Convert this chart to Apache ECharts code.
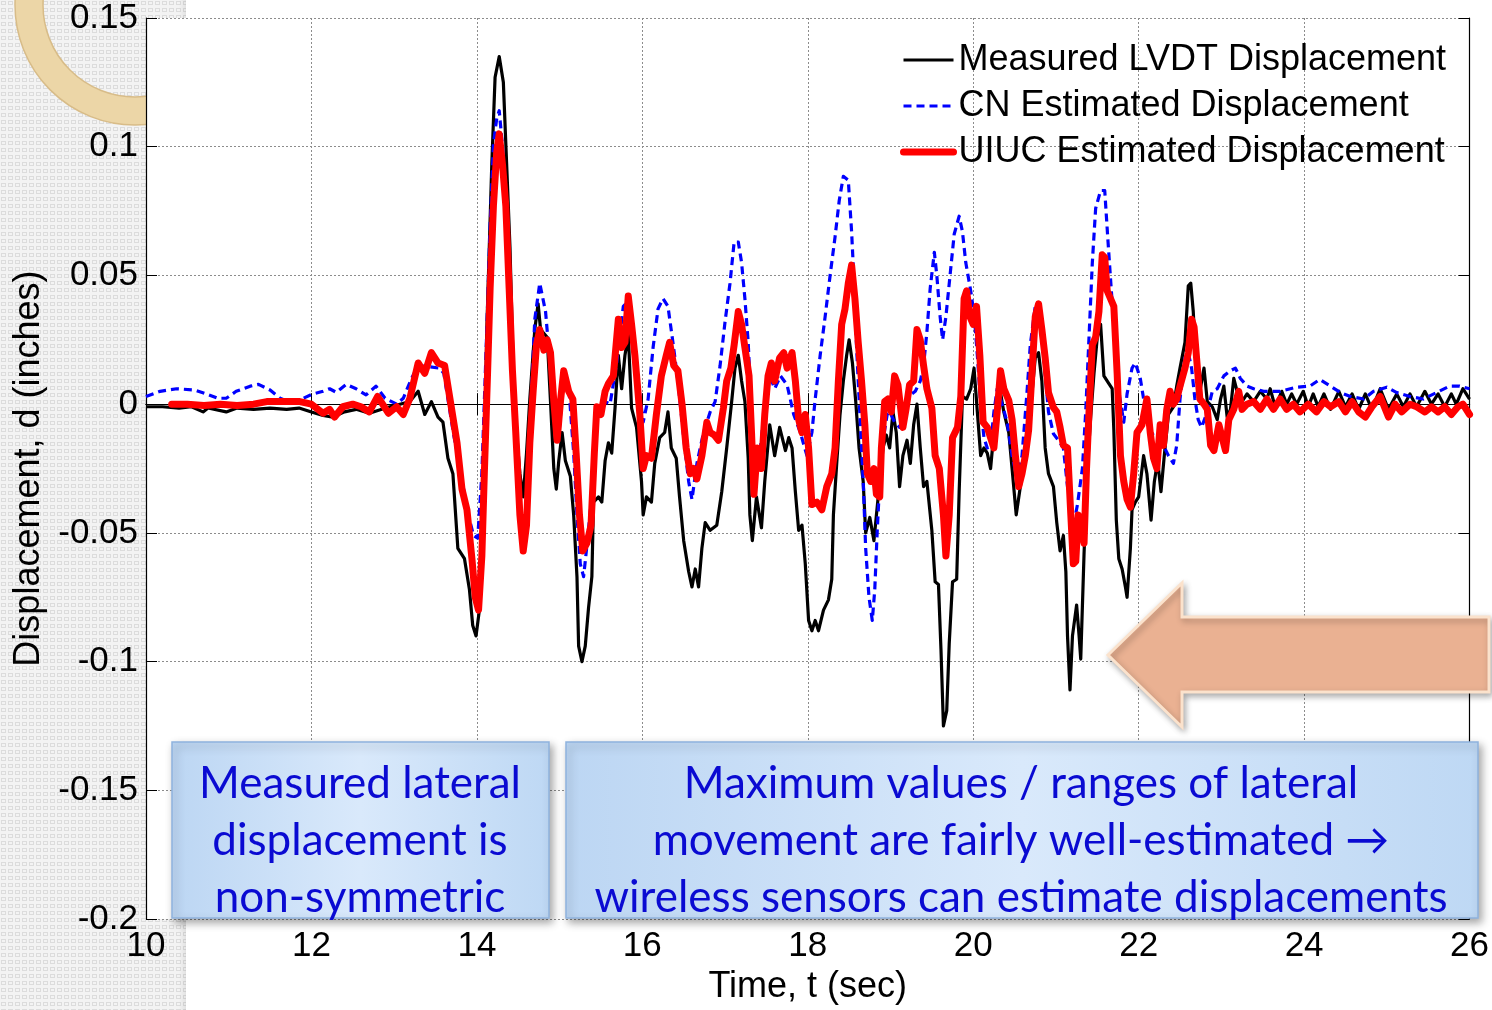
<!DOCTYPE html>
<html>
<head>
<meta charset="utf-8">
<title>Lateral displacement: measured vs. estimated</title>
<script src="https://cdn.jsdelivr.net/npm/echarts@6/dist/echarts.min.js"></script>
<style>
  html, body { margin: 0; padding: 0; background: #ffffff; }
  #chart { width: 1492px; height: 1010px; }
</style>
</head>
<body>
<div id="chart"></div>
<script>
// ---- series: [time (sec), displacement (inches)] ----
const lvdt = [
  [10.00,-0.001],[10.20,-0.001],[10.40,-0.0015],[10.55,-0.001],[10.69,-0.003],[10.75,-0.0015],[10.97,-0.003],[11.10,-0.0015],
  [11.30,-0.002],[11.50,-0.0015],[11.70,-0.002],[11.85,-0.0015],[12.00,-0.003],[12.14,-0.0044],[12.26,-0.005],[12.40,-0.003],
  [12.54,-0.002],[12.70,-0.0035],[12.85,-0.002],[12.95,-0.001],[13.07,0.000],[13.19,0.001],[13.29,0.005],[13.37,-0.004],
  [13.45,0.001],[13.53,-0.005],[13.59,-0.007],[13.65,-0.021],[13.71,-0.027],[13.77,-0.056],[13.85,-0.060],[13.91,-0.072],
  [13.95,-0.086],[13.99,-0.090],[14.03,-0.080],[14.08,-0.035],[14.12,0.029],[14.18,0.093],[14.22,0.127],[14.27,0.135],
  [14.32,0.125],[14.36,0.093],[14.40,0.061],[14.44,0.013],[14.48,-0.011],[14.52,-0.027],[14.56,-0.036],[14.60,-0.019],
  [14.64,0.002],[14.70,0.029],[14.74,0.039],[14.77,0.029],[14.85,0.026],[14.89,0.001],[14.93,-0.025],[14.96,-0.033],
  [14.99,-0.022],[15.03,-0.011],[15.07,-0.022],[15.13,-0.028],[15.17,-0.043],[15.21,-0.067],[15.23,-0.094],[15.27,-0.100],
  [15.31,-0.094],[15.35,-0.079],[15.39,-0.067],[15.41,-0.038],[15.47,-0.036],[15.51,-0.038],[15.55,-0.022],[15.59,-0.015],
  [15.63,-0.019],[15.67,-0.0015],[15.71,0.019],[15.75,0.006],[15.79,0.019],[15.83,0.027],[15.87,-0.0015],[15.93,-0.009],
  [15.99,-0.030],[16.01,-0.043],[16.05,-0.036],[16.11,-0.038],[16.15,-0.023],[16.21,-0.013],[16.27,-0.011],[16.31,-0.003],
  [16.35,-0.017],[16.41,-0.021],[16.45,-0.036],[16.50,-0.053],[16.56,-0.065],[16.60,-0.071],[16.64,-0.064],[16.68,-0.071],
  [16.72,-0.056],[16.76,-0.046],[16.82,-0.049],[16.90,-0.047],[16.96,-0.034],[17.02,-0.017],[17.08,0.001],[17.12,0.014],
  [17.16,0.019],[17.20,0.009],[17.24,0.001],[17.28,-0.021],[17.30,-0.043],[17.33,-0.053],[17.38,-0.036],[17.44,-0.048],
  [17.48,-0.030],[17.54,-0.008],[17.60,-0.020],[17.66,-0.009],[17.73,-0.018],[17.77,-0.013],[17.81,-0.017],[17.85,-0.034],
  [17.89,-0.049],[17.93,-0.047],[17.97,-0.062],[18.01,-0.084],[18.05,-0.088],[18.09,-0.084],[18.13,-0.088],[18.19,-0.080],
  [18.25,-0.076],[18.29,-0.068],[18.31,-0.043],[18.35,-0.023],[18.39,-0.004],[18.43,0.009],[18.47,0.019],[18.50,0.025],
  [18.54,0.016],[18.58,0.001],[18.62,-0.017],[18.67,-0.030],[18.70,-0.050],[18.75,-0.044],[18.80,-0.053],[18.83,-0.043],
  [18.87,-0.030],[18.91,-0.017],[18.95,-0.012],[18.99,-0.017],[19.03,-0.003],[19.07,-0.011],[19.11,-0.032],[19.15,-0.020],
  [19.20,-0.014],[19.24,-0.023],[19.28,-0.008],[19.32,0.000],[19.36,-0.017],[19.40,-0.032],[19.44,-0.030],[19.50,-0.049],
  [19.54,-0.069],[19.58,-0.070],[19.61,-0.095],[19.64,-0.125],[19.68,-0.119],[19.71,-0.093],[19.75,-0.069],[19.80,-0.068],
  [19.83,-0.034],[19.87,0.003],[19.92,0.002],[19.97,0.006],[20.01,0.014],[20.05,-0.003],[20.09,-0.020],[20.13,-0.017],
  [20.17,-0.019],[20.21,-0.025],[20.25,-0.011],[20.33,0.0045],[20.37,-0.003],[20.43,-0.011],[20.47,-0.025],[20.52,-0.043],
  [20.57,-0.032],[20.63,-0.020],[20.69,-0.003],[20.75,0.018],[20.79,0.020],[20.83,0.009],[20.87,-0.017],[20.91,-0.027],
  [20.97,-0.032],[21.01,-0.046],[21.05,-0.057],[21.09,-0.051],[21.12,-0.065],[21.14,-0.090],[21.17,-0.111],[21.20,-0.090],
  [21.25,-0.078],[21.28,-0.090],[21.30,-0.099],[21.34,-0.058],[21.38,-0.025],[21.42,-0.005],[21.46,0.012],[21.50,0.026],
  [21.54,0.031],[21.58,0.011],[21.64,0.008],[21.68,0.006],[21.70,-0.010],[21.73,-0.045],[21.76,-0.060],[21.80,-0.064],
  [21.84,-0.071],[21.86,-0.075],[21.90,-0.056],[21.92,-0.041],[21.96,-0.038],[22.00,-0.036],[22.06,-0.020],[22.10,-0.027],
  [22.15,-0.045],[22.19,-0.030],[22.23,-0.022],[22.27,-0.034],[22.31,-0.020],[22.36,-0.004],[22.42,-0.001],[22.46,0.007],
  [22.50,0.014],[22.56,0.024],[22.60,0.046],[22.63,0.047],[22.66,0.036],[22.70,0.012],[22.74,0.005],[22.79,0.014],
  [22.83,0.001],[22.89,-0.001],[22.95,-0.006],[22.99,0.002],[23.03,0.007],[23.07,-0.005],[23.11,-0.002],[23.15,0.010],
  [23.23,0.000],[23.31,0.004],[23.39,0.001],[23.47,0.005],[23.55,0.002],[23.59,0.006],[23.65,-0.001],[23.73,0.005],
  [23.79,0.000],[23.85,0.004],[23.91,0.000],[23.99,0.005],[24.05,-0.001],[24.11,0.004],[24.17,-0.001],[24.24,0.004],
  [24.32,-0.002],[24.42,0.005],[24.50,-0.001],[24.58,0.004],[24.66,-0.002],[24.74,0.004],[24.82,-0.002],[24.92,0.006],
  [25.02,-0.002],[25.12,0.004],[25.20,-0.001],[25.28,0.004],[25.36,-0.001],[25.46,0.005],[25.54,0.000],[25.62,0.004],
  [25.70,-0.001],[25.78,0.004],[25.84,0.000],[25.92,0.006],[26.00,0.002]
];

const cn = [
  [10.00,0.003],[10.17,0.005],[10.37,0.006],[10.59,0.0055],[10.73,0.004],[10.87,0.0023],[10.97,0.0023],[11.09,0.005],
  [11.26,0.007],[11.36,0.0077],[11.50,0.0055],[11.62,0.0023],[11.72,0.001],[11.86,0.0017],[12.02,0.004],[12.14,0.005],
  [12.22,0.006],[12.30,0.0046],[12.42,0.0077],[12.54,0.006],[12.66,0.0036],[12.78,0.007],[12.89,0.0023],[13.03,0.000],
  [13.11,0.0023],[13.21,0.010],[13.29,0.015],[13.43,0.0145],[13.55,0.014],[13.60,0.012],[13.64,0.004],[13.72,-0.012],
  [13.80,-0.025],[13.88,-0.041],[13.96,-0.051],[14.01,-0.052],[14.06,-0.027],[14.12,0.029],[14.16,0.069],[14.20,0.101],
  [14.24,0.111],[14.27,0.114],[14.31,0.100],[14.36,0.061],[14.40,0.029],[14.46,-0.011],[14.52,-0.043],[14.57,-0.057],
  [14.61,-0.043],[14.65,-0.003],[14.70,0.033],[14.76,0.047],[14.83,0.036],[14.87,0.021],[14.93,-0.003],[14.99,-0.012],
  [15.05,0.010],[15.11,0.007],[15.17,-0.019],[15.21,-0.043],[15.25,-0.062],[15.29,-0.067],[15.33,-0.055],[15.39,-0.035],
  [15.43,-0.007],[15.49,0.001],[15.55,0.001],[15.61,0.000],[15.69,0.016],[15.77,0.038],[15.83,0.040],[15.89,0.024],
  [15.95,0.009],[16.01,-0.007],[16.07,0.002],[16.13,0.022],[16.19,0.037],[16.25,0.041],[16.31,0.038],[16.37,0.024],
  [16.43,0.009],[16.50,-0.013],[16.56,-0.030],[16.60,-0.037],[16.66,-0.023],[16.74,-0.011],[16.82,-0.003],[16.88,0.001],
  [16.94,0.015],[17.00,0.032],[17.06,0.047],[17.11,0.063],[17.16,0.063],[17.20,0.055],[17.24,0.041],[17.28,0.024],
  [17.32,-0.004],[17.36,-0.025],[17.40,-0.022],[17.44,-0.014],[17.48,0.001],[17.54,0.011],[17.60,0.006],[17.67,0.011],
  [17.75,0.0075],[17.83,-0.004],[17.91,-0.011],[17.99,-0.020],[18.05,-0.011],[18.09,0.002],[18.15,0.019],[18.21,0.034],
  [18.27,0.050],[18.33,0.065],[18.38,0.079],[18.43,0.0885],[18.49,0.087],[18.53,0.067],[18.56,0.047],[18.59,0.022],
  [18.63,-0.004],[18.67,-0.030],[18.70,-0.056],[18.74,-0.075],[18.78,-0.084],[18.81,-0.072],[18.84,-0.049],[18.87,-0.030],
  [18.91,-0.014],[18.96,-0.004],[18.99,-0.003],[19.05,-0.007],[19.11,-0.009],[19.18,-0.0015],[19.24,0.0036],[19.30,0.005],
  [19.36,0.009],[19.40,0.015],[19.44,0.028],[19.48,0.045],[19.53,0.059],[19.56,0.050],[19.60,0.034],[19.63,0.025],
  [19.67,0.034],[19.72,0.050],[19.77,0.066],[19.83,0.073],[19.87,0.067],[19.91,0.055],[19.97,0.044],[20.01,0.035],
  [20.05,0.019],[20.09,0.000],[20.13,-0.013],[20.17,-0.017],[20.21,-0.016],[20.25,-0.003],[20.29,0.006],[20.35,0.000],
  [20.41,-0.007],[20.47,-0.020],[20.53,-0.029],[20.59,-0.020],[20.65,0.0045],[20.69,0.023],[20.75,0.038],[20.79,0.039],
  [20.85,0.019],[20.91,-0.003],[20.97,-0.0115],[21.03,-0.014],[21.09,-0.017],[21.14,-0.032],[21.18,-0.041],[21.22,-0.046],
  [21.26,-0.039],[21.32,-0.025],[21.36,-0.003],[21.40,0.026],[21.44,0.055],[21.48,0.076],[21.54,0.083],[21.59,0.083],
  [21.63,0.063],[21.67,0.044],[21.72,0.022],[21.77,0.003],[21.82,-0.007],[21.86,0.004],[21.92,0.014],[21.96,0.016],
  [22.02,0.010],[22.08,-0.002],[22.14,-0.011],[22.22,-0.013],[22.30,-0.016],[22.36,-0.020],[22.42,-0.023],[22.46,-0.016],
  [22.50,0.002],[22.56,0.018],[22.60,0.020],[22.64,0.014],[22.68,0.002],[22.72,-0.006],[22.76,-0.009],[22.83,-0.003],
  [22.89,0.005],[22.95,0.006],[23.03,0.011],[23.11,0.013],[23.17,0.014],[23.23,0.010],[23.31,0.007],[23.39,0.006],
  [23.51,0.005],[23.71,0.005],[23.91,0.0066],[24.07,0.007],[24.19,0.0096],[24.32,0.007],[24.44,0.0045],[24.56,0.003],
  [24.72,0.002],[24.84,0.005],[25.00,0.0066],[25.12,0.0045],[25.28,0.003],[25.44,0.002],[25.60,0.0045],[25.76,0.007],
  [25.88,0.007],[26.00,0.006]
];

const uiuc = [
  [10.31,0.000],[10.50,0.000],[10.70,-0.0005],[10.90,0.000],[11.10,-0.0005],[11.30,0.000],[11.46,0.001],[11.70,0.001],
  [11.86,0.001],[12.00,0.000],[12.14,-0.0035],[12.22,-0.002],[12.28,-0.005],[12.38,-0.001],[12.50,0.000],[12.60,-0.001],
  [12.70,-0.003],[12.80,0.003],[12.93,-0.0035],[13.03,-0.001],[13.11,-0.004],[13.19,0.0023],[13.29,0.016],[13.37,0.012],
  [13.45,0.020],[13.53,0.016],[13.61,0.015],[13.68,0.001],[13.76,-0.015],[13.82,-0.033],[13.88,-0.041],[13.94,-0.060],
  [13.98,-0.075],[14.02,-0.080],[14.06,-0.059],[14.09,-0.027],[14.13,0.013],[14.16,0.045],[14.20,0.077],[14.24,0.098],
  [14.27,0.105],[14.31,0.093],[14.35,0.077],[14.39,0.045],[14.43,0.013],[14.47,-0.011],[14.52,-0.043],[14.56,-0.057],
  [14.60,-0.047],[14.64,-0.015],[14.68,0.005],[14.72,0.023],[14.76,0.029],[14.81,0.021],[14.85,0.025],[14.89,0.020],
  [14.93,0.001],[14.97,-0.014],[15.01,0.001],[15.05,0.013],[15.11,0.005],[15.16,0.002],[15.20,-0.019],[15.24,-0.043],
  [15.28,-0.057],[15.33,-0.054],[15.38,-0.047],[15.42,-0.019],[15.45,-0.001],[15.50,-0.004],[15.55,0.005],[15.59,0.008],
  [15.65,0.011],[15.71,0.033],[15.75,0.022],[15.79,0.024],[15.83,0.042],[15.87,0.031],[15.91,0.019],[15.97,-0.004],
  [16.01,-0.025],[16.05,-0.020],[16.11,-0.021],[16.17,-0.004],[16.23,0.011],[16.29,0.019],[16.33,0.024],[16.38,0.015],
  [16.43,0.013],[16.48,0.000],[16.53,-0.017],[16.58,-0.027],[16.62,-0.025],[16.66,-0.029],[16.72,-0.020],[16.78,-0.007],
  [16.82,-0.011],[16.87,-0.012],[16.92,-0.014],[16.98,-0.0015],[17.02,0.009],[17.07,0.014],[17.11,0.023],[17.16,0.036],
  [17.20,0.031],[17.24,0.022],[17.29,0.011],[17.32,-0.011],[17.35,-0.035],[17.39,-0.017],[17.44,-0.025],[17.48,-0.004],
  [17.52,0.011],[17.56,0.016],[17.60,0.009],[17.66,0.018],[17.71,0.020],[17.75,0.014],[17.81,0.020],[17.85,0.009],
  [17.89,-0.006],[17.93,-0.011],[17.97,-0.004],[18.01,-0.017],[18.05,-0.039],[18.11,-0.038],[18.17,-0.041],[18.23,-0.032],
  [18.29,-0.027],[18.33,-0.017],[18.37,0.009],[18.41,0.031],[18.45,0.037],[18.49,0.047],[18.53,0.054],[18.57,0.041],
  [18.61,0.024],[18.65,0.009],[18.69,-0.008],[18.72,-0.027],[18.76,-0.030],[18.80,-0.025],[18.83,-0.035],[18.87,-0.036],
  [18.89,-0.017],[18.93,0.001],[18.97,0.002],[19.01,-0.003],[19.05,0.011],[19.09,0.0075],[19.15,-0.009],[19.19,-0.0015],
  [19.23,0.0075],[19.28,0.009],[19.32,0.029],[19.36,0.025],[19.40,0.015],[19.44,0.006],[19.50,-0.0015],[19.54,-0.020],
  [19.59,-0.025],[19.64,-0.043],[19.67,-0.059],[19.71,-0.043],[19.75,-0.013],[19.81,-0.009],[19.85,0.003],[19.89,0.041],
  [19.92,0.044],[19.96,0.034],[20.00,0.031],[20.04,0.038],[20.08,0.019],[20.12,-0.007],[20.17,-0.009],[20.21,-0.013],
  [20.25,-0.017],[20.29,-0.003],[20.33,0.013],[20.37,0.006],[20.43,0.0015],[20.47,-0.006],[20.51,-0.020],[20.55,-0.032],
  [20.59,-0.027],[20.63,-0.020],[20.67,-0.010],[20.71,0.012],[20.75,0.034],[20.79,0.039],[20.83,0.029],[20.87,0.018],
  [20.91,0.0045],[20.97,-0.0013],[21.01,-0.003],[21.05,-0.009],[21.09,-0.016],[21.14,-0.017],[21.18,-0.043],[21.21,-0.062],
  [21.24,-0.061],[21.27,-0.043],[21.30,-0.046],[21.34,-0.054],[21.37,-0.025],[21.40,-0.003],[21.44,0.023],[21.48,0.026],
  [21.52,0.036],[21.56,0.058],[21.59,0.057],[21.62,0.044],[21.66,0.041],[21.70,0.038],[21.74,0.012],[21.78,-0.020],
  [21.82,-0.030],[21.86,-0.037],[21.90,-0.040],[21.94,-0.027],[21.98,-0.011],[22.04,-0.008],[22.10,0.002],[22.14,-0.011],
  [22.18,-0.021],[22.22,-0.025],[22.26,-0.008],[22.30,-0.016],[22.34,-0.002],[22.38,0.005],[22.42,0.000],[22.46,0.002],
  [22.50,0.007],[22.56,0.014],[22.60,0.020],[22.64,0.033],[22.67,0.030],[22.70,0.018],[22.74,0.002],[22.79,0.000],
  [22.83,-0.002],[22.87,-0.016],[22.91,-0.018],[22.97,-0.008],[23.01,-0.013],[23.05,-0.018],[23.09,-0.006],[23.15,-0.002],
  [23.21,0.005],[23.25,-0.002],[23.31,0.000],[23.39,0.001],[23.47,-0.002],[23.55,0.002],[23.63,-0.002],[23.71,0.002],
  [23.79,-0.002],[23.87,0.000],[23.95,-0.003],[24.05,0.000],[24.15,-0.003],[24.24,0.001],[24.32,-0.001],[24.42,0.001],
  [24.50,-0.003],[24.58,0.001],[24.66,-0.003],[24.74,-0.005],[24.82,-0.001],[24.92,0.003],[25.02,-0.005],[25.10,0.000],
  [25.18,-0.003],[25.28,0.000],[25.36,-0.001],[25.46,-0.003],[25.54,-0.001],[25.62,-0.003],[25.70,-0.001],[25.78,-0.004],
  [25.86,-0.001],[25.92,0.000],[26.00,-0.004]
];

const seriesNames = ['Measured LVDT Displacement', 'CN Estimated Displacement', 'UIUC Estimated Displacement'];
const timeRange = [10, 26];
const timeStep = 2;
const dispRange = [-0.2, 0.15];
const dispStep = 0.05;

const noteLeft = ['Measured lateral', 'displacement is', 'non-symmetric'];
const noteRight = ['Maximum values / ranges of lateral', 'movement are fairly well-estimated \u2192', 'wireless sensors can estimate displacements'];

// ---- decoration helpers ----
function dotPattern() {
  const c = document.createElement('canvas');
  c.width = 7; c.height = 7;
  const g = c.getContext('2d');
  g.fillStyle = '#f3f3f3';
  g.fillRect(0, 0, 7, 7);
  g.strokeStyle = '#dcdcdc';
  g.lineWidth = 1;
  g.strokeRect(1.5, 1.5, 4, 3);
  return c;
}

const AXIS_FONT = '"Liberation Sans", Arial, Helvetica, sans-serif';
const NOTE_FONT = 'Lato, "Noto Sans", sans-serif';
const HIDDEN_MARK = { color: 'rgba(0,0,0,0)', borderWidth: 0, opacity: 0 };

const noteBoxStyle = {
  fill: {
    type: 'linear', x: 0, y: 0, x2: 1, y2: 0,
    colorStops: [
      { offset: 0, color: '#bcd6f3' },
      { offset: 0.5, color: '#d9e9fb' },
      { offset: 1, color: '#bed8f4' }
    ]
  },
  stroke: '#8fb3de',
  lineWidth: 1.5,
  shadowBlur: 8,
  shadowOffsetX: 3,
  shadowOffsetY: 4,
  shadowColor: 'rgba(0,0,0,0.35)'
};

const chart = echarts.init(document.getElementById('chart'), null, { renderer: 'canvas' });

const option = {
  animation: false,
  backgroundColor: '#ffffff',
  grid: {
    left: 146, right: 21, top: 18, bottom: 85,
    show: true, backgroundColor: '#ffffff', borderWidth: 0
  },
  legend: {
    orient: 'vertical',
    left: 895,
    top: 37,
    padding: 5,
    itemWidth: 50,
    itemHeight: 14,
    itemGap: 10,
    textStyle: { fontFamily: AXIS_FONT, fontSize: 36, color: '#000', lineHeight: 36 },
    data: [
      { name: seriesNames[0], itemStyle: HIDDEN_MARK, lineStyle: { width: 3 } },
      { name: seriesNames[1], itemStyle: HIDDEN_MARK, lineStyle: { width: 3, type: [8, 5] } },
      { name: seriesNames[2], itemStyle: HIDDEN_MARK, lineStyle: { width: 7 } }
    ]
  },
  xAxis: [
    {
      type: 'value', min: timeRange[0], max: timeRange[1], interval: timeStep,
      name: 'Time, t (sec)', nameLocation: 'middle', nameGap: 49,
      nameTextStyle: { fontFamily: AXIS_FONT, fontSize: 36, color: '#000' },
      axisLine: { lineStyle: { color: '#000', width: 1.2 } },
      axisTick: { inside: true, length: 11, lineStyle: { color: '#000', width: 1 } },
      axisLabel: { fontFamily: AXIS_FONT, fontSize: 35, color: '#000', margin: 10 },
      splitLine: { show: true, lineStyle: { color: '#8c8c8c', type: [2, 2], width: 1 } }
    },
    {
      type: 'value', position: 'top', min: timeRange[0], max: timeRange[1], interval: timeStep,
      axisLine: { show: true, lineStyle: { color: '#000', width: 1.2 } },
      axisTick: { inside: true, length: 11, lineStyle: { color: '#000', width: 1 } },
      axisLabel: { show: false },
      splitLine: { show: false }
    }
  ],
  yAxis: [
    {
      type: 'value', min: dispRange[0], max: dispRange[1], interval: dispStep,
      name: 'Displacement, d (inches)', nameLocation: 'middle', nameGap: 99,
      nameTextStyle: { fontFamily: AXIS_FONT, fontSize: 36, color: '#000' },
      axisLine: { show: true, lineStyle: { color: '#000', width: 1.2 } },
      axisTick: { show: true, inside: true, length: 11, lineStyle: { color: '#000', width: 1 } },
      axisLabel: { fontFamily: AXIS_FONT, fontSize: 35, color: '#000', margin: 8, padding: [10, 0, 0, 0] },
      splitLine: { show: true, lineStyle: { color: '#8c8c8c', type: [2, 2], width: 1 } }
    },
    {
      type: 'value', position: 'right', min: dispRange[0], max: dispRange[1], interval: dispStep,
      axisLine: { show: true, lineStyle: { color: '#000', width: 1.2 } },
      axisTick: { show: true, inside: true, length: 11, lineStyle: { color: '#000', width: 1 } },
      axisLabel: { show: false },
      splitLine: { show: false }
    }
  ],
  series: [
    {
      name: seriesNames[0], type: 'line', data: lvdt, symbol: 'none', showSymbol: false,
      lineStyle: { color: '#000000', width: 3.2, join: 'round' },
      itemStyle: { color: '#000000' }, z: 2
    },
    {
      name: seriesNames[1], type: 'line', data: cn, symbol: 'none', showSymbol: false,
      lineStyle: { color: '#0000ff', width: 3.2, type: [8, 5], join: 'round' },
      itemStyle: { color: '#0000ff' }, z: 3
    },
    {
      name: seriesNames[2], type: 'line', data: uiuc, symbol: 'none', showSymbol: false,
      lineStyle: { color: '#ff0000', width: 7, join: 'round', cap: 'round' },
      itemStyle: { color: '#ff0000' }, z: 4
    }
  ],
  graphic: [
    // textured side strip of the slide
    { type: 'rect', z: -5, silent: true,
      shape: { x: 0, y: 0, width: 186, height: 1010 },
      style: { fill: { type: 'pattern', image: dotPattern(), repeat: 'repeat' } } },
    { type: 'rect', z: -4, silent: true,
      shape: { x: 179, y: 0, width: 7, height: 1010 },
      style: { fill: { type: 'linear', x: 0, y: 0, x2: 1, y2: 0,
        colorStops: [{ offset: 0, color: 'rgba(0,0,0,0)' }, { offset: 1, color: 'rgba(0,0,0,0.07)' }] } } },
    // decorative ring in the corner
    { type: 'ring', z: -3, silent: true,
      shape: { cx: 135, cy: 5, r: 120, r0: 92 },
      style: { fill: '#ecd6a7', stroke: '#d8bc88', lineWidth: 1.5 } },
    // white slide area to the right of the strip
    { type: 'rect', z: -2, silent: true,
      shape: { x: 186, y: 0, width: 1306, height: 18 },
      style: { fill: '#ffffff' } },
    // pointer arrow
    { type: 'polygon', z: 20, silent: true,
      shape: { points: [[1108, 655], [1182, 583], [1182, 617], [1489, 617], [1489, 692], [1182, 692], [1182, 727]] },
      style: { fill: '#eab192', stroke: '#fbe2cc', lineWidth: 3, lineJoin: 'miter',
        shadowBlur: 6, shadowOffsetX: 2, shadowOffsetY: 3, shadowColor: 'rgba(0,0,0,0.3)' } },
    // note boxes
    { type: 'rect', z: 20, silent: true,
      shape: { x: 172, y: 742, width: 377, height: 176 }, style: noteBoxStyle },
    { type: 'text', z: 21, silent: true,
      style: { text: noteLeft.join('\n'), x: 360, y: 841, align: 'center', verticalAlign: 'middle',
        fontFamily: NOTE_FONT, fontSize: 44, lineHeight: 57, fill: '#0a0ad2' } },
    { type: 'rect', z: 20, silent: true,
      shape: { x: 566, y: 742, width: 912, height: 176 }, style: noteBoxStyle },
    { type: 'text', z: 21, silent: true,
      style: { text: noteRight.join('\n'), x: 1021, y: 841, align: 'center', verticalAlign: 'middle',
        fontFamily: NOTE_FONT, fontSize: 44, lineHeight: 57, fill: '#0a0ad2' } }
  ]
};

chart.setOption(option);
</script>
</body>
</html>
